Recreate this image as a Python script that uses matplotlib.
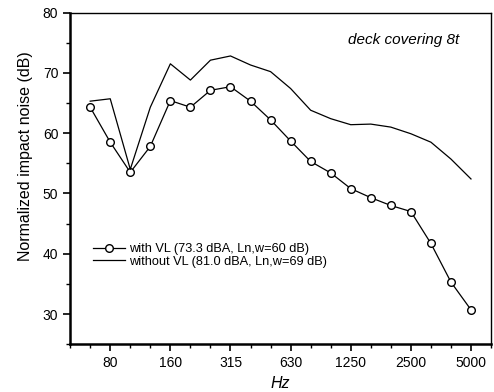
import matplotlib
matplotlib.use("Agg")
import matplotlib.pyplot as plt

plt.rcParams['font.family'] = ['Liberation Sans', 'DejaVu Sans']

# 1/3 octave bands, axis runs from 50 Hz to 6300 Hz
bands = ["50", "63", "80", "100", "125", "160", "200", "250", "315", "400", "500",
         "630", "800", "1000", "1250", "1600", "2000", "2500", "3150", "4000",
         "5000", "6300"]
tick_labels = ["80", "160", "315", "630", "1250", "2500", "5000"]

data_bands = bands[1:21]
with_vl = [64.3, 58.5, 53.5, 57.8, 65.4, 64.3, 67.1, 67.7, 65.3, 62.2,
           58.7, 55.3, 53.4, 50.8, 49.3, 48.0, 47.0, 41.7, 35.3, 30.7]
without_vl = [65.3, 65.7, 54.0, 64.3, 71.5, 68.8, 72.1, 72.8, 71.3, 70.2,
              67.4, 63.8, 62.4, 61.4, 61.5, 61.0, 59.9, 58.5, 55.7, 52.4]

idx = {b: i for i, b in enumerate(bands)}
xs = [idx[b] for b in data_bands]

fig = plt.figure(figsize=(4.94, 3.92), dpi=100)
ax = fig.add_axes([0.142, 0.122, 0.852, 0.846])

ax.plot(xs, with_vl, color='black', lw=0.9, marker='o', markersize=5.5,
        markerfacecolor='white', markeredgecolor='black', markeredgewidth=1.0,
        label='with VL (73.3 dBA, Ln,w=60 dB)')
ax.plot(xs, without_vl, color='black', lw=0.9,
        label='without VL (81.0 dBA, Ln,w=69 dB)')

ax.set_xlim(0, len(bands) - 1)
ax.set_ylim(25, 80)
ax.set_xticks([idx[t] for t in tick_labels])
ax.set_xticklabels(tick_labels)
ax.set_xticks(range(len(bands)), minor=True)
ax.set_yticks([30, 40, 50, 60, 70, 80])
ax.set_yticks(range(25, 81, 5), minor=True)

ax.tick_params(which='major', direction='out', length=5, width=1.2, labelsize=10)
ax.tick_params(which='minor', direction='out', length=3, width=1.0)

for side in ['left', 'bottom']:
    ax.spines[side].set_linewidth(1.8)
for side in ['right', 'top']:
    ax.spines[side].set_linewidth(1.0)

ax.set_xlabel('Hz', fontsize=11.5, fontstyle='italic', labelpad=4)
ax.set_ylabel('Normalized impact noise (dB)', fontsize=11.5)
ax.yaxis.set_label_coords(-0.088, 0.567)

ax.text(0.925, 0.918, 'deck covering 8t', transform=ax.transAxes,
        fontsize=11, fontstyle='italic', ha='right', va='center')

ax.legend(loc='center left', bbox_to_anchor=(0.04, 0.268), frameon=False,
          fontsize=9.2, handlelength=2.5, handletextpad=0.3, labelspacing=0.05,
          borderpad=0)

fig.savefig('out.png', dpi=100)
